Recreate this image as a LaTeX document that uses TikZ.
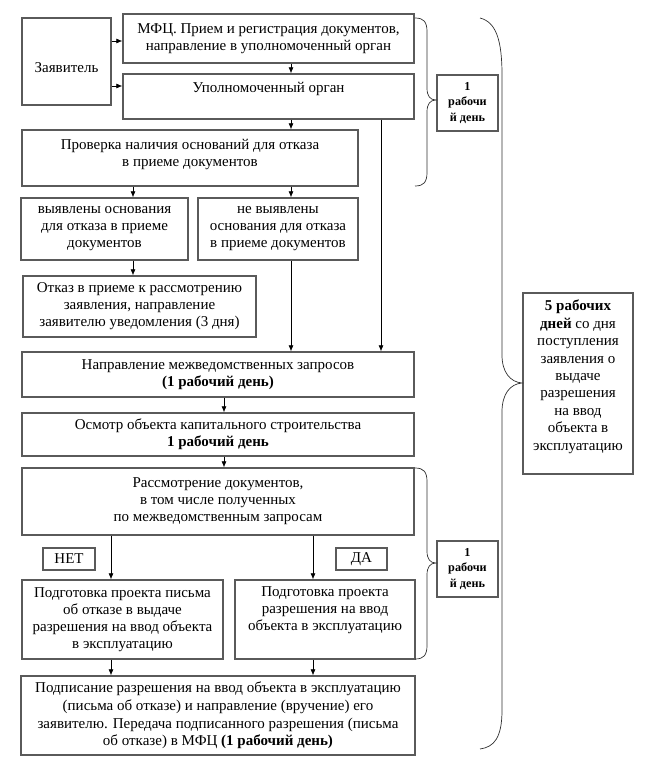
\documentclass[tikz,border=0pt]{standalone}
\usepackage{fontspec}
\setmainfont{Liberation Serif}
\usetikzlibrary{arrows.meta}
\definecolor{boxgray}{HTML}{5A5A5A}
\definecolor{bracegray}{HTML}{303030}
\begin{document}
\begin{tikzpicture}[x=1pt,y=-1pt,
  box/.style={draw=boxgray, line width=1.3pt, align=center, inner sep=0pt,
    font=\fontsize{15}{17}\selectfont},
  smallbox/.style={box, font=\fontsize{12.2}{15.5}\selectfont\bfseries},
  arr/.style={-{Latex[length=6pt,width=5pt]}, line width=0.7pt, black},
  brace/.style={draw=bracegray, line width=0.7pt},
]
\useasboundingbox (0,0) rectangle (647,773);

% nodes
\node[box, minimum width=89pt, minimum height=87pt] (zay) at (66.5,61.5) {\strut\\[-6pt]Заявитель};
\node[box, minimum width=291pt, minimum height=49pt] (mfc) at (268.5,38.5)
  {МФЦ. Прием и регистрация документов,\\направление в уполномоченный орган};
\node[box, minimum width=291pt, minimum height=45pt] (uo) at (268.5,96.5)
  {Уполномоченный орган\\[-4pt]\strut};
\node[box, minimum width=336pt, minimum height=56pt] (prov) at (190,158)
  {Проверка наличия оснований для отказа\\в приеме документов\\[-12pt]\strut};
\node[box, minimum width=167pt, minimum height=62pt] (vyy) at (104.5,229)
  {выявлены основания\\для отказа в приеме\\документов};
\node[box, minimum width=160pt, minimum height=62pt] (nevyy) at (278,229)
  {не выявлены\\основания для отказа\\в приеме документов};
\node[box, minimum width=233pt, minimum height=61pt] (otk) at (139.5,306.5)
  {Отказ в приеме к рассмотрению\\заявления, направление\\заявителю уведомления (3 дня)};
\node[box, minimum width=392pt, minimum height=45pt] (napr) at (218,374.5)
  {Направление межведомственных запросов\\\textbf{(1 рабочий день)}};
\node[box, minimum width=392pt, minimum height=43pt] (osm) at (218,434.5)
  {Осмотр объекта капитального строительства\\\textbf{1 рабочий день}};
\node[box, minimum width=392pt, minimum height=67pt] (rasm) at (218,501.5)
  {Рассмотрение документов,\\в том числе полученных\\по межведомственным запросам};
\node[box, minimum width=52pt, minimum height=22pt] (net) at (69,559) {НЕТ};
\node[box, minimum width=51pt, minimum height=22pt] (da) at (361.5,559) {ДА};
\node[box, minimum width=201pt, minimum height=79pt] (podL) at (122.5,619.5)
  {Подготовка проекта письма\\об отказе в выдаче\\разрешения на ввод объекта\\в эксплуатацию};
\node[box, minimum width=180pt, minimum height=79pt] (podR) at (325,619.5)
  {Подготовка проекта\\разрешения на ввод\\объекта в эксплуатацию\\\strut};
\node[box, minimum width=394pt, minimum height=79pt, font=\fontsize{15}{17.6}\selectfont] (podp) at (218,715.5)
  {Подписание разрешения на ввод объекта в эксплуатацию\\(письма об отказе) и направление (вручение) его\\заявителю. Передача подписанного разрешения (письма\\об отказе) в МФЦ \textbf{(1 рабочий день)}};
\node[smallbox, minimum width=61pt, minimum height=56pt] (day1) at (467.5,103)
  {1\\рабочи\\й день};
\node[smallbox, minimum width=61pt, minimum height=56pt] (day1b) at (467.5,569)
  {1\\рабочи\\й день};
\node[box, minimum width=110pt, minimum height=181pt, font=\fontsize{15}{17.4}\selectfont] (day5) at (578,383.5)
  {\textbf{5 рабочих}\\\textbf{дней} со дня\\поступления\\заявления о\\выдаче\\разрешения\\на ввод\\объекта в\\эксплуатацию\\[-6pt]\strut};

% column / row helper coordinates
\coordinate (r41) at (0,41);
\coordinate (r86) at (0,86);
\coordinate (c111) at (111,0);
\coordinate (c133) at (133,0);
\coordinate (c224) at (224,0);
\coordinate (c291) at (291,0);
\coordinate (c313) at (313,0);
\coordinate (c381) at (381,0);

% connectors
\draw[arr] (zay.east |- r41) -- (mfc.west |- r41);
\draw[arr] (zay.east |- r86) -- (uo.west |- r86);
\draw[arr] (c291 |- mfc.south) -- (c291 |- uo.north);
\draw[arr] (c291 |- uo.south) -- (c291 |- prov.north);
\draw[arr] (c381 |- uo.south) -- (c381 |- napr.north);
\draw[arr] (c133 |- prov.south) -- (c133 |- vyy.north);
\draw[arr] (c291 |- prov.south) -- (c291 |- nevyy.north);
\draw[arr] (c133 |- vyy.south) -- (c133 |- otk.north);
\draw[arr] (c291 |- nevyy.south) -- (c291 |- napr.north);
\draw[arr] (c224 |- napr.south) -- (c224 |- osm.north);
\draw[arr] (c224 |- osm.south) -- (c224 |- rasm.north);
\draw[arr] (c111 |- rasm.south) -- (c111 |- podL.north);
\draw[arr] (c313 |- rasm.south) -- (c313 |- podR.north);
\draw[arr] (c111 |- podL.south) -- (c111 |- podp.north);
\draw[arr] (c313 |- podR.south) -- (c313 |- podp.north);

% braces
\draw[brace] (415,18) .. controls (424,18) and (427,22) .. (427,32) -- (427,88)
  .. controls (427,96) and (430,100) .. (436,100)
  .. controls (430,100) and (427,104) .. (427,112) -- (427,172)
  .. controls (427,182) and (424,186) .. (415,186);
\draw[brace] (415,468) .. controls (424,468) and (427,472) .. (427,482) -- (427,551)
  .. controls (427,559) and (430,563) .. (436,563)
  .. controls (430,563) and (427,567) .. (427,575) -- (427,645)
  .. controls (427,655) and (424,659) .. (415,659);
\draw[brace] (480,18) .. controls (496,22) and (502,40) .. (502,75) -- (502,355)
  .. controls (502,372) and (510,382) .. (522,383)
  .. controls (510,384) and (502,394) .. (502,412) -- (502,710)
  .. controls (502,738) and (494,747) .. (480,749);
\end{tikzpicture}
\end{document}
